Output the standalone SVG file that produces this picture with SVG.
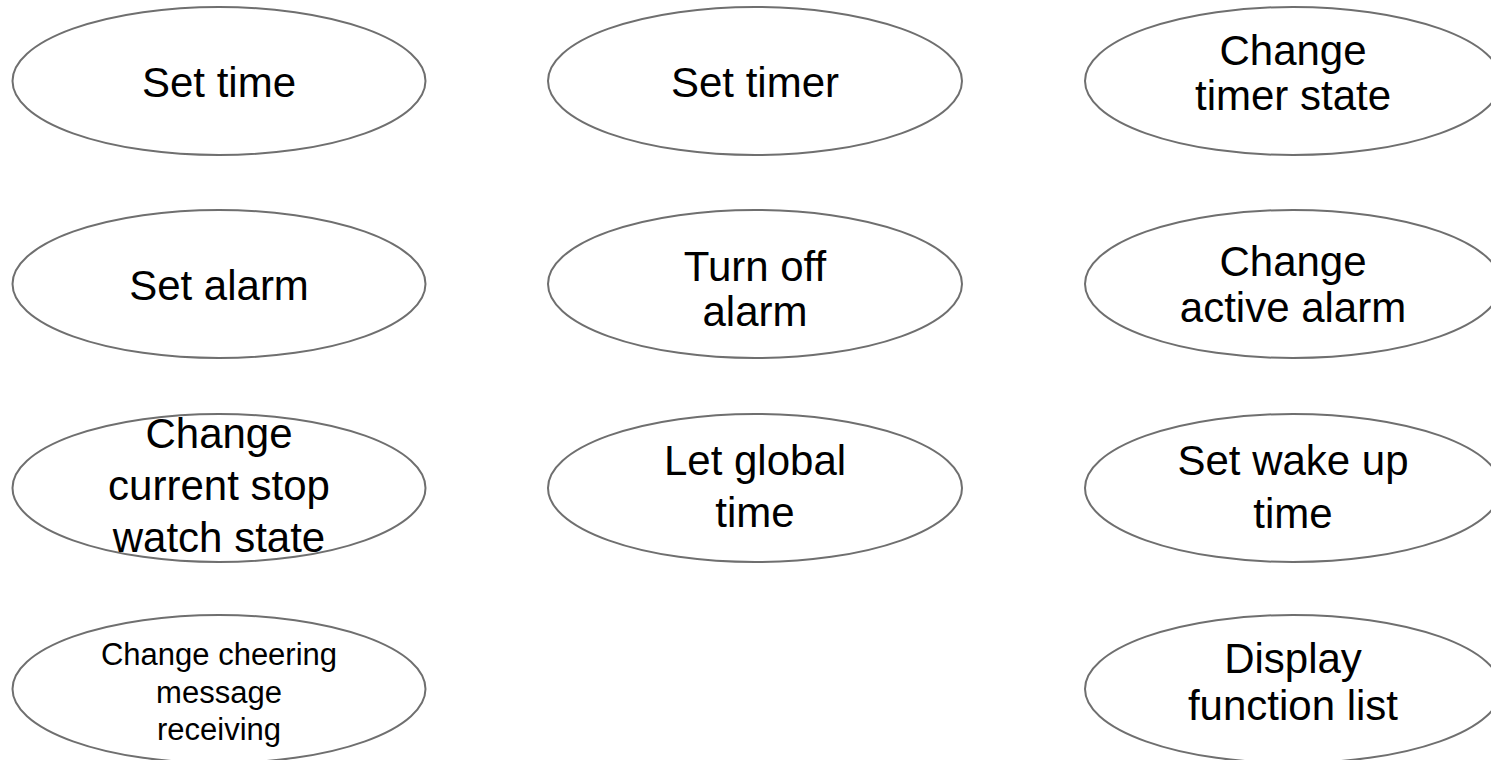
<svg xmlns="http://www.w3.org/2000/svg" width="1491" height="760" viewBox="0 0 1491 760">
<style>
.n{fill:#ffffff;stroke:#6f6f6f;stroke-width:2}
.t{font-family:"Liberation Sans",Arial,sans-serif;font-size:42px;fill:#000000;text-anchor:middle}
.s{font-size:31px}
</style>
<rect width="1491" height="760" fill="#ffffff"/>
<g id="connectors"></g>
<g id="set-time"><ellipse class="n" cx="219" cy="81" rx="206.5" ry="74"/><text class="t" x="219" y="97">Set time</text></g>
<g id="set-timer"><ellipse class="n" cx="755" cy="81" rx="207" ry="74"/><text class="t" x="755" y="97">Set timer</text></g>
<g id="change-timer-state"><ellipse class="n" cx="1293" cy="81" rx="208" ry="74"/><text class="t" x="1293" y="65">Change</text><text class="t" x="1293" y="110">timer state</text></g>
<g id="set-alarm"><ellipse class="n" cx="219" cy="284" rx="206.5" ry="74"/><text class="t" x="219" y="300">Set alarm</text></g>
<g id="turn-off-alarm"><ellipse class="n" cx="755" cy="284" rx="207" ry="74"/><text class="t" x="755" y="281">Turn off</text><text class="t" x="755" y="326">alarm</text></g>
<g id="change-active-alarm"><ellipse class="n" cx="1293" cy="284" rx="208" ry="74"/><text class="t" x="1293" y="276">Change</text><text class="t" x="1293" y="322">active alarm</text></g>
<g id="change-stopwatch-state"><ellipse class="n" cx="219" cy="488" rx="206.5" ry="74"/><text class="t" x="219" y="448">Change</text><text class="t" x="219" y="500">current stop</text><text class="t" x="219" y="552">watch state</text></g>
<g id="let-global-time"><ellipse class="n" cx="755" cy="488" rx="207" ry="74"/><text class="t" x="755" y="475">Let global</text><text class="t" x="755" y="527">time</text></g>
<g id="set-wake-up-time"><ellipse class="n" cx="1293" cy="488" rx="208" ry="74"/><text class="t" x="1293" y="475">Set wake up</text><text class="t" x="1293" y="528">time</text></g>
<g id="change-cheering"><ellipse class="n" cx="219" cy="689" rx="206.5" ry="74"/><text class="t s" x="219" y="665">Change cheering</text><text class="t s" x="219" y="703">message</text><text class="t s" x="219" y="740">receiving</text></g>
<g id="display-function-list"><ellipse class="n" cx="1293" cy="689" rx="208" ry="74"/><text class="t" x="1293" y="673">Display</text><text class="t" x="1293" y="720">function list</text></g>
</svg>
